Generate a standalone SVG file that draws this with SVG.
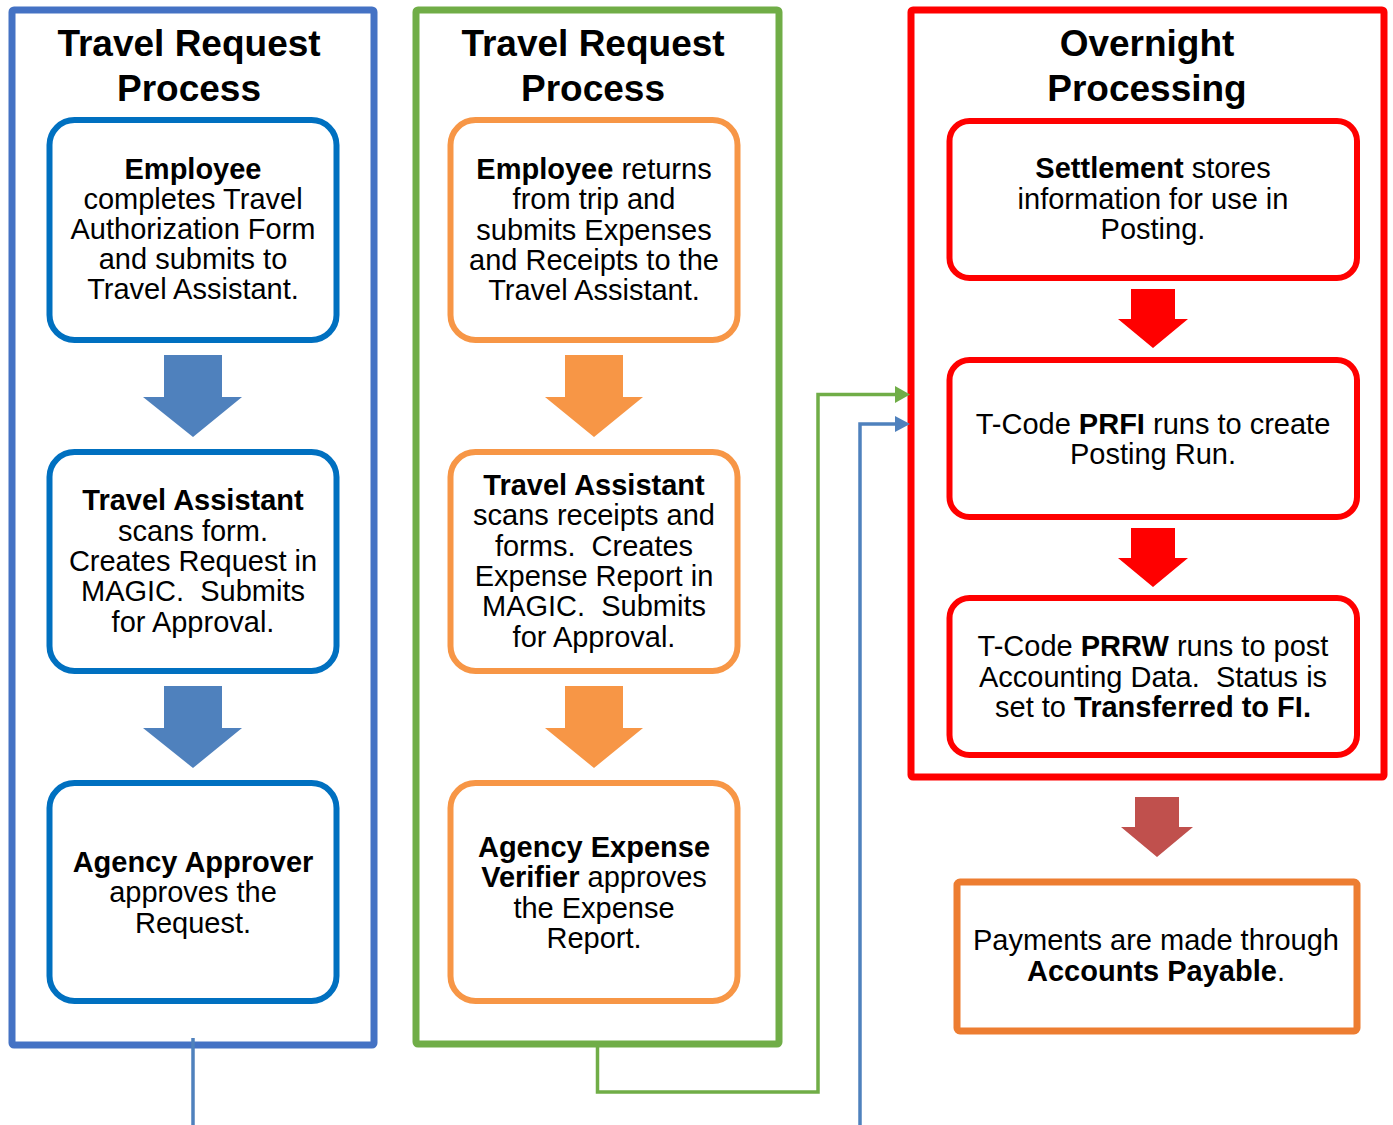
<svg xmlns="http://www.w3.org/2000/svg" width="1393" height="1125" viewBox="0 0 1393 1125">
<style>
text{font-family:"Liberation Sans",Arial,sans-serif;fill:#000;text-anchor:middle;white-space:pre}
.t{font-size:37px;font-weight:bold}
.b{font-size:29px}
.bd{font-weight:bold}
.panel{fill:#fff;stroke-width:7;stroke-linejoin:round}
.box{fill:#fff;stroke-width:6}
.bb{stroke:#0070C0}
.ob{stroke:#F79646}
.rb{stroke:#FF0000}
.conn{fill:none;stroke-width:3.5}
</style>
<rect width="1393" height="1125" fill="#fff"/>
<g id="panel-blue">
<rect class="panel" x="12" y="10" width="362" height="1035" rx="2" stroke="#4472C4"/>
<text class="t" x="189" y="56">Travel Request</text>
<text class="t" x="189" y="101">Process</text>
</g>
<g id="panel-green">
<rect class="panel" x="416" y="10" width="363" height="1034" rx="2" stroke="#70AD47"/>
<text class="t" x="593" y="56">Travel Request</text>
<text class="t" x="593" y="101">Process</text>
</g>
<g id="panel-red">
<rect class="panel" x="911" y="10" width="473" height="767" rx="2" stroke="#FF0000" stroke-width="8"/>
<text class="t" x="1147" y="56">Overnight</text>
<text class="t" x="1147" y="101">Processing</text>
</g>
<g id="b1">
<rect class="box bb" x="49.5" y="120" width="287" height="220" rx="25"/>
<text class="b" x="193" y="179"><tspan class="bd">Employee</tspan></text>
<text class="b" x="193" y="209">completes Travel</text>
<text class="b" x="193" y="239">Authorization Form</text>
<text class="b" x="193" y="269">and submits to</text>
<text class="b" x="193" y="299">Travel Assistant.</text>
</g>
<g id="b2">
<rect class="box bb" x="49.5" y="452" width="287" height="219" rx="25"/>
<text class="b" x="193" y="510"><tspan class="bd">Travel Assistant</tspan></text>
<text class="b" x="193" y="541">scans form.</text>
<text class="b" x="193" y="571">Creates Request in</text>
<text class="b" x="193" y="601">MAGIC.  Submits</text>
<text class="b" x="193" y="632">for Approval.</text>
</g>
<g id="b3">
<rect class="box bb" x="49.5" y="783" width="287" height="218" rx="25"/>
<text class="b" x="193" y="872"><tspan class="bd">Agency Approver</tspan></text>
<text class="b" x="193" y="902">approves the</text>
<text class="b" x="193" y="933">Request.</text>
</g>
<g id="o1">
<rect class="box ob" x="450.5" y="120" width="287" height="220" rx="25"/>
<text class="b" x="594" y="179"><tspan class="bd">Employee</tspan> returns</text>
<text class="b" x="594" y="209">from trip and</text>
<text class="b" x="594" y="240">submits Expenses</text>
<text class="b" x="594" y="270">and Receipts to the</text>
<text class="b" x="594" y="300">Travel Assistant.</text>
</g>
<g id="o2">
<rect class="box ob" x="450.5" y="452" width="287" height="219" rx="25"/>
<text class="b" x="594" y="495"><tspan class="bd">Travel Assistant</tspan></text>
<text class="b" x="594" y="525">scans receipts and</text>
<text class="b" x="594" y="556">forms.  Creates</text>
<text class="b" x="594" y="586">Expense Report in</text>
<text class="b" x="594" y="616">MAGIC.  Submits</text>
<text class="b" x="594" y="647">for Approval.</text>
</g>
<g id="o3">
<rect class="box ob" x="450.5" y="783" width="287" height="218" rx="25"/>
<text class="b" x="594" y="857"><tspan class="bd">Agency Expense</tspan></text>
<text class="b" x="594" y="887"><tspan class="bd">Verifier</tspan> approves</text>
<text class="b" x="594" y="918">the Expense</text>
<text class="b" x="594" y="948">Report.</text>
</g>
<g id="r1">
<rect class="box rb" x="949.5" y="121" width="407.5" height="157" rx="20"/>
<text class="b" x="1153" y="178"><tspan class="bd">Settlement</tspan> stores</text>
<text class="b" x="1153" y="209">information for use in</text>
<text class="b" x="1153" y="239">Posting.</text>
</g>
<g id="r2">
<rect class="box rb" x="949.5" y="360" width="407.5" height="157" rx="20"/>
<text class="b" x="1153" y="434">T-Code <tspan class="bd">PRFI</tspan> runs to create</text>
<text class="b" x="1153" y="464">Posting Run.</text>
</g>
<g id="r3">
<rect class="box rb" x="949.5" y="598" width="407.5" height="157" rx="20"/>
<text class="b" x="1153" y="656">T-Code <tspan class="bd">PRRW</tspan> runs to post</text>
<text class="b" x="1153" y="687">Accounting Data.  Status is</text>
<text class="b" x="1153" y="717">set to <tspan class="bd">Transferred to FI.</tspan></text>
</g>
<g id="pay">
<rect x="957" y="882" width="400" height="149" rx="3" fill="#fff" stroke="#ED7D31" stroke-width="7"/>
<text class="b" x="1156" y="950">Payments are made through</text>
<text class="b" x="1156" y="981"><tspan class="bd">Accounts Payable</tspan>.</text>
</g>
<g id="connectors">
<polygon points="164,355 222,355 222,397 242,397 193,437 143,397 164,397" fill="#4F81BD"/>
<polygon points="164,686 222,686 222,728 242,728 193,768 143,728 164,728" fill="#4F81BD"/>
<polygon points="565,355 623,355 623,397 643,397 594,437 545,397 565,397" fill="#F79646"/>
<polygon points="565,686 623,686 623,728 643,728 594,768 545,728 565,728" fill="#F79646"/>
<polygon points="1131,289 1175,289 1175,319 1188,319 1153,348 1118,319 1131,319" fill="#FF0000"/>
<polygon points="1131,528 1175,528 1175,558 1188,558 1153,587 1118,558 1131,558" fill="#FF0000"/>
<polygon points="1135,797 1179,797 1179,827 1193,827 1157,857 1121,827 1135,827" fill="#C0504D"/>
<path class="conn" stroke="#70AD47" d="M597.5,1047 V1092 H818 V394.5 H896"/>
<polygon points="895,386 910,394.5 895,403" fill="#70AD47"/>
<path class="conn" stroke="#4F81BD" d="M860,1125 V424 H896"/>
<polygon points="895,416 910,424 895,432" fill="#4F81BD"/>
<path class="conn" stroke="#4F81BD" stroke-width="4" d="M193,1038 V1125"/>
</g>
</svg>
